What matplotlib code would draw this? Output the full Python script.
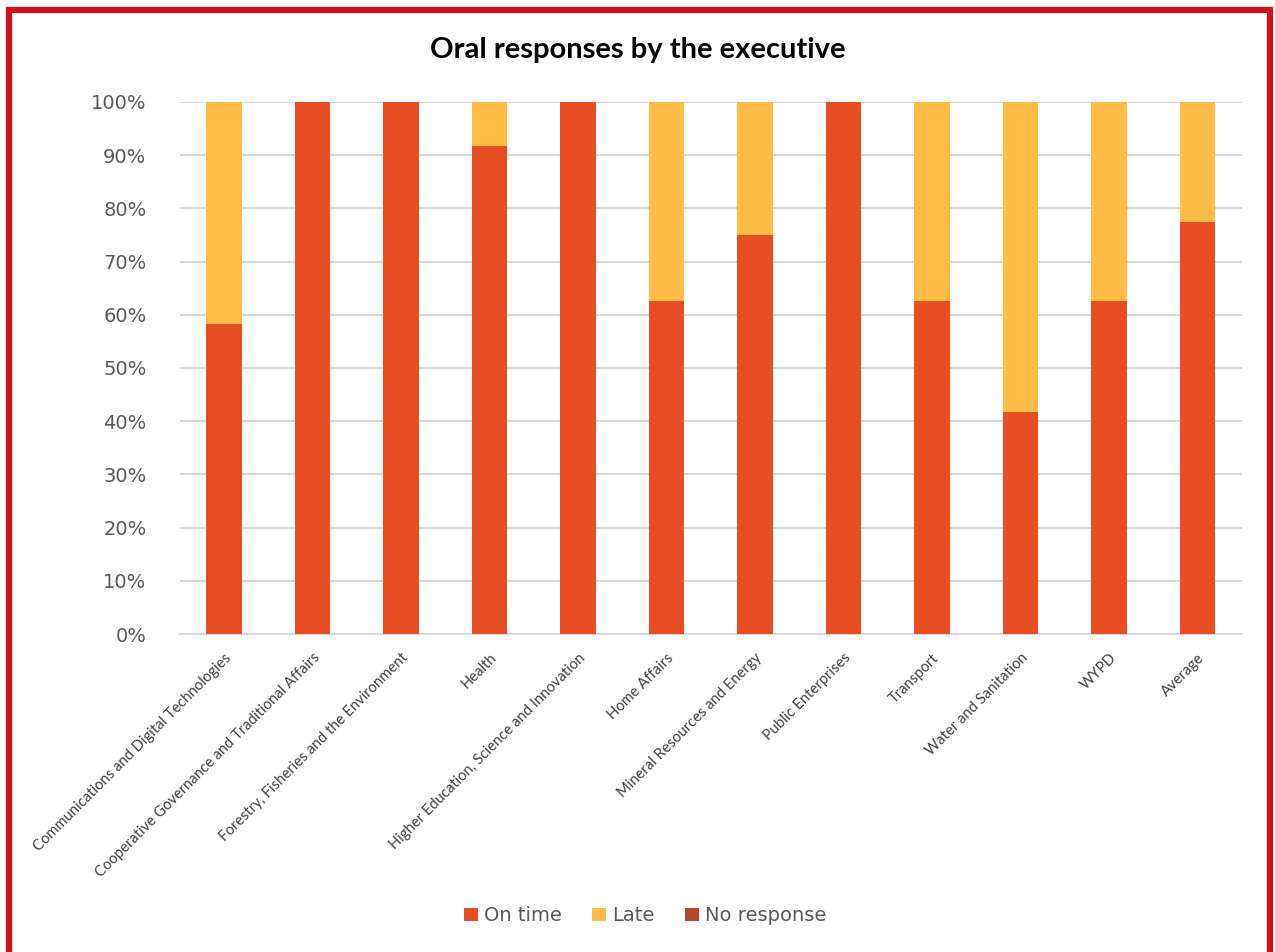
import numpy as np
import matplotlib
import matplotlib.pyplot as plt
from matplotlib.patches import Rectangle

categories = ['Communications and Digital Technologies',
              'Cooperative Governance and Traditional Affairs',
              'Forestry, Fisheries and the Environment',
              'Health',
              'Higher Education, Science and Innovation',
              'Home Affairs',
              'Mineral Resources and Energy',
              'Public Enterprises',
              'Transport',
              'Water and Sanitation',
              'WYPD',
              'Average']
on_time = [58.3, 100, 100, 91.7, 100, 62.5, 75.0, 100, 62.5, 41.7, 62.5, 77.5]
late = [41.7, 0, 0, 8.3, 0, 37.5, 25.0, 0, 37.5, 58.3, 37.5, 22.5]
no_response = [0, 0, 0, 0, 0, 0, 0, 0, 0, 0, 0, 0]

c_on = '#E84E24'
c_late = '#FFBC47'
c_none = '#B5472A'

fig = plt.figure(figsize=(12.75, 9.52), dpi=100)
ax = fig.add_axes([0.141, 0.334, 0.833, 0.559])

x = np.arange(len(categories))
w = 0.4
on = np.array(on_time)
lt = np.array(late)
nr = np.array(no_response)
ax.bar(x, on, w, color=c_on, label='On time', zorder=3)
ax.bar(x, lt, w, bottom=on, color=c_late, label='Late', zorder=3)
ax.bar(x, nr, w, bottom=on + lt, color=c_none, label='No response', zorder=3)

ax.set_ylim(0, 100)
ax.set_xlim(-0.5, len(categories) - 0.5)
ax.set_yticks(np.arange(0, 101, 10))
ax.set_yticklabels(['%d%%' % v for v in range(0, 101, 10)])
ax.yaxis.grid(True, color='#D9D9D9', linewidth=1.5, zorder=0)
ax.set_axisbelow(True)
for s in ['top', 'right', 'left']:
    ax.spines[s].set_visible(False)
ax.spines['bottom'].set_color('#D9D9D9')
ax.spines['bottom'].set_linewidth(1.5)
ax.tick_params(axis='y', length=0, labelsize=14, labelcolor='#595959', pad=24)
ax.tick_params(axis='x', length=0, pad=12)
ax.set_xticks(x)
ax.set_xticklabels(categories, rotation=45, ha='right', rotation_mode='anchor',
                   fontsize=10.6, color='#404040', family='Lato')

fig.text(0.5, 0.947, 'Oral responses by the executive', ha='center', va='center',
         fontsize=21, fontweight='bold', family='Lato')

leg = fig.legend(loc='center', bbox_to_anchor=(0.506, 0.038), ncol=3, frameon=False,
                 fontsize=14, handlelength=0.7, handleheight=0.7, handletextpad=0.3,
                 columnspacing=1.6)
for t in leg.get_texts():
    t.set_color('#595959')

fig.patches.append(Rectangle((8.5 / 1275, -0.05), 1 - 14 / 1275, 1.05 - 9.5 / 952,
                             transform=fig.transFigure, fill=False,
                             edgecolor='#D0101A', linewidth=4.5))

fig.savefig('out.png', dpi=100)
